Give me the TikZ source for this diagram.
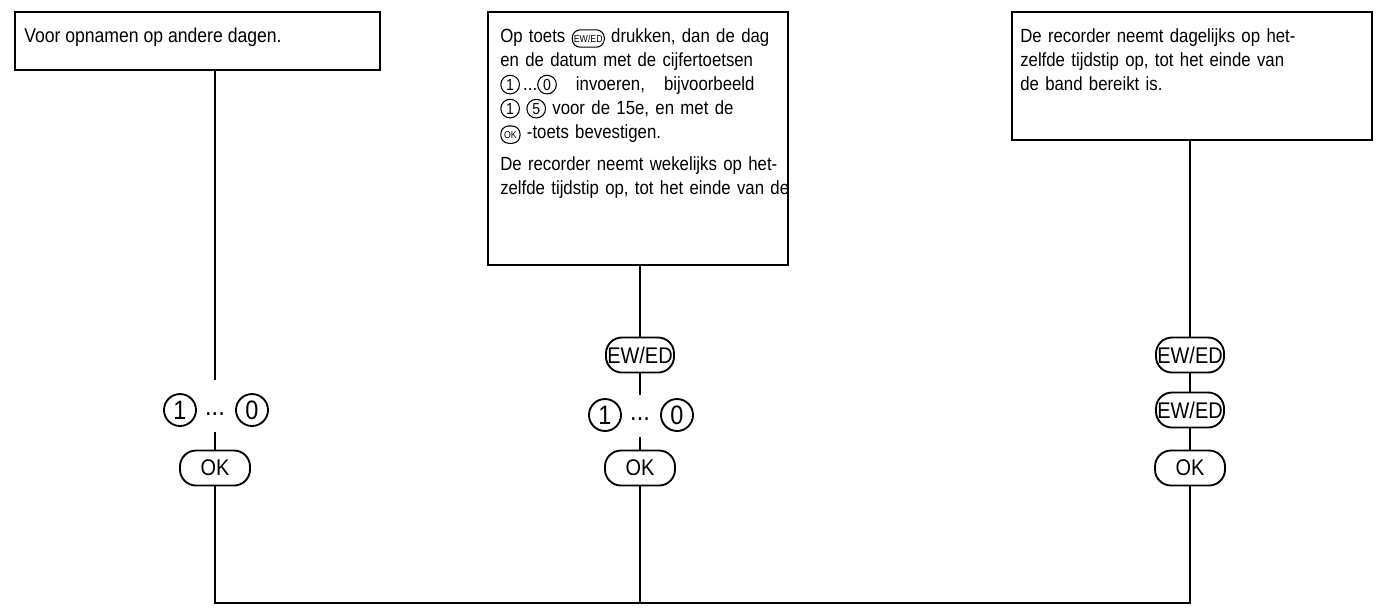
\documentclass[tikz,border=0pt]{standalone}
\usepackage{fontspec}
\setmainfont{Liberation Sans}[FakeStretch=0.88]
\begin{document}
\newcommand{\cd}[1]{\tikz[baseline=(c.base)]\node[circle,draw,line width=0.8pt,inner sep=0.6pt,minimum size=14pt,font=\fontsize{12}{12}\selectfont](c){#1};}
\newcommand{\kb}[1]{\tikz[baseline=(c.base)]\node[rounded corners=6pt,draw,line width=0.8pt,inner sep=1.2pt,minimum height=13pt,font=\fontsize{7.5}{7.5}\selectfont](c){#1};}
\newlength{\tw}
\newcommand{\jl}[1]{\makebox[\tw][s]{#1}\\}
\begin{tikzpicture}[x=0.75pt,y=-0.75pt,
  ln/.style={line width=0.8pt},
  key/.style={draw,line width=1.4pt,rounded corners=12pt,minimum height=35pt*0.75,inner sep=1pt,font=\fontsize{17}{17}\selectfont,fill=white},
  dig/.style={circle,draw,line width=1.4pt,minimum size=32pt*0.75,inner sep=0pt,font=\fontsize{20}{20}\selectfont,fill=white}]
\useasboundingbox (0,0) rectangle (1384,612);
% boxes
\draw[line width=0.9pt] (15,12) rectangle (380,70);
\node[anchor=west,inner sep=0pt,font=\fontsize{15}{18}\selectfont] (t1) at (24,37) {Voor opnamen op andere dagen.};
\draw[line width=0.9pt] (488,12) rectangle (788,265);
\setlength{\tw}{206pt}
\node[anchor=north west,text width=206pt,align=left,inner sep=0pt,font=\fontsize{14.3}{18}\selectfont] (t2) at (500,28) {%
\jl{Op toets \kb{EW/ED} drukken, dan de dag}
\jl{en de datum met de cijfertoetsen}
\jl{\cd{1}\,...\cd{0} \ \ invoeren, \ \ bijvoorbeeld}
\jl{\cd{1} \cd{5} voor de 15e, en met de}
\kb{\,OK\,} -toets bevestigen.\\[6pt]
\jl{De recorder neemt wekelijks op het-}
\jl{zelfde tijdstip op, tot het einde van de}};
\draw[line width=0.9pt] (1012,12) rectangle (1372,140);
\node[anchor=north west,text width=257pt,align=left,inner sep=0pt,font=\fontsize{14.3}{18}\selectfont] (t3) at (1020,28) {%
\setlength{\tw}{257pt}%
\jl{De recorder neemt dagelijks op het-}
\jl{zelfde tijdstip op, tot het einde van}
de band bereikt is.};
% column 1
\coordinate (a0) at (215,70);
\node[dig] (a1) at (180,410) {1};
\node[dig] (a2) at (252,410) {0};
\node[font=\fontsize{20}{20}\selectfont] (ad) at (215,414) {...};
\node[key,minimum width=70pt*0.75] (a3) at (215,468) {OK};
\coordinate (b1) at (215,603);
% column 2
\coordinate (m0) at (640,265);
\node[key,minimum width=60pt*0.75] (m1) at (640,355) {EW/ED};
\node[dig] (m2) at (605,415) {1};
\node[dig] (m3) at (677,415) {0};
\node[font=\fontsize{20}{20}\selectfont] (md) at (640,419) {...};
\node[key,minimum width=70pt*0.75] (m4) at (640,468) {OK};
\coordinate (b2) at (640,603);
% column 3
\coordinate (r0) at (1190,140);
\node[key,minimum width=60pt*0.75] (r1) at (1190,355) {EW/ED};
\node[key,minimum width=60pt*0.75] (r2) at (1190,410) {EW/ED};
\node[key,minimum width=70pt*0.75] (r3) at (1190,468) {OK};
\coordinate (b3) at (1190,603);
\draw[ln] (a0) -- (215,380);
\draw[ln] (215,432) -- (a3.north);
\draw[ln] (a3.south) -- (b1) -- (b3) -- (r3.south);
\draw[ln] (m0) -- (m1.north);
\draw[ln] (m1.south) -- (640,395);
\draw[ln] (640,437) -- (m4.north);
\draw[ln] (m4.south) -- (b2);
\draw[line width=1.4pt] (r1.south) -- (r2.north);
\draw[ln] (r0) -- (r1.north);
\draw[ln] (r2.south) -- (r3.north);
\end{tikzpicture}
\end{document}
